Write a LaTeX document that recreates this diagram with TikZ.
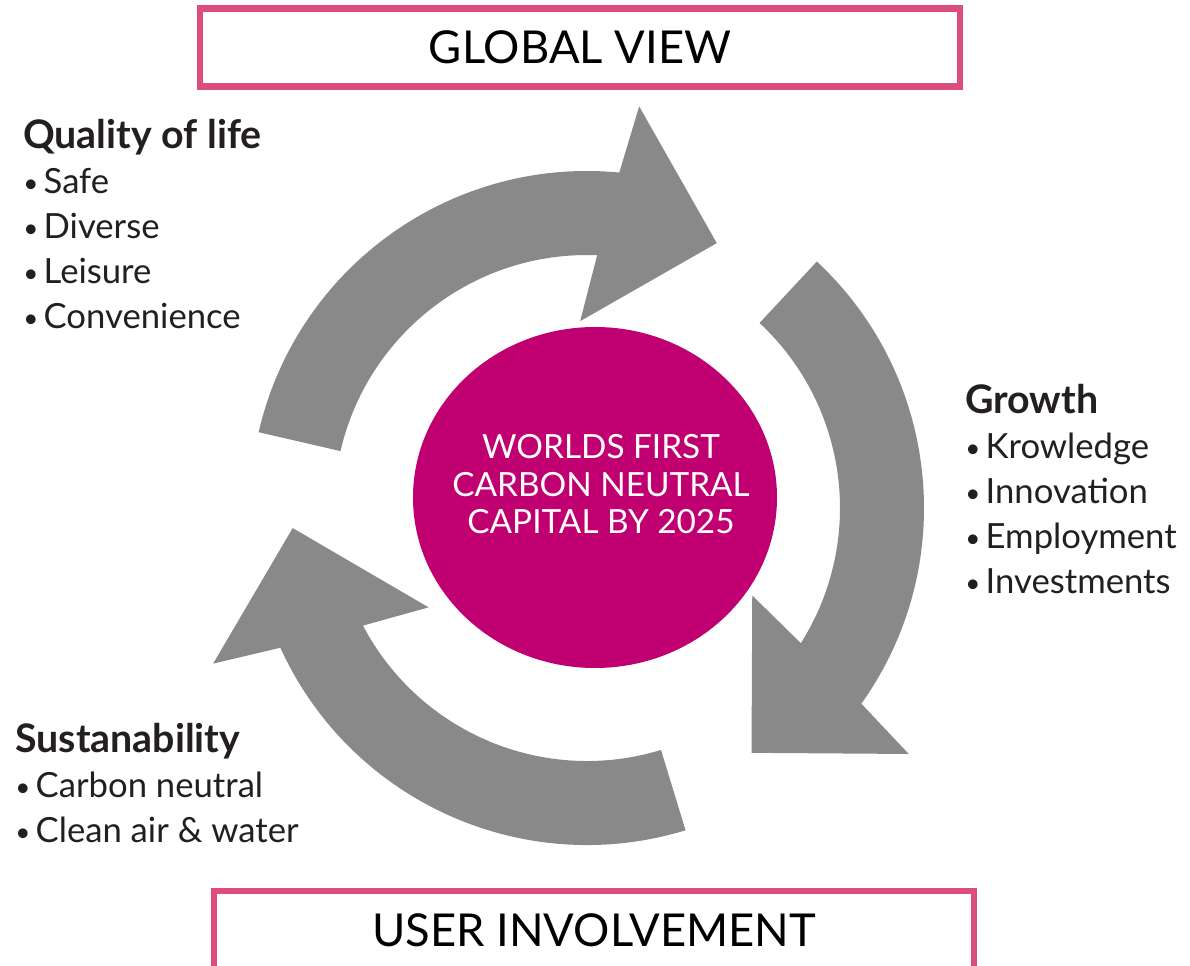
\documentclass[tikz,border=0pt]{standalone}
\usepackage{fontspec}
\setmainfont{Lato}
\usepackage{graphicx}
\usepackage{tikz}

\definecolor{boxpink}{RGB}{220,76,126}
\definecolor{capmagenta}{RGB}{192,0,112}
\definecolor{arrowgray}{RGB}{137,137,137}
\definecolor{textdark}{RGB}{35,31,32}

\newcommand{\listdot}{\raisebox{0.75pt}{\scalebox{0.75}{\textbullet}}\hspace{4pt}}
\newcommand{\listhead}[1]{{\fontsize{29.5}{33.75}\selectfont\bfseries #1}}

\tikzset{
  titlebox/.style={draw=boxpink, line width=5pt, minimum width=570pt, minimum height=58.5pt, inner sep=0pt, text=black, font=\fontsize{34}{40}\selectfont},
  arrowbody/.style={fill=arrowgray, draw=none},
  listtext/.style={anchor=north west, inner sep=0pt, align=left, text=textdark, font=\fontsize{26}{33.75}\selectfont}
}

\begin{document}
\begin{tikzpicture}[x=0.75pt,y=0.75pt,yscale=-1]
\fill[white] (0,0) rectangle (1190,966);
\useasboundingbox (0,0) rectangle (1190,966);

%Shape: Rectangle
\node (global) [titlebox] at (580,47.5) {GLOBAL VIEW};
%Shape: Rectangle
\node (user) [titlebox] at (594,930) {USER INVOLVEMENT};

\begin{scope}[shift={(587,508)}]
%Shape: Circular Arrow (quality of life -> growth)
\draw [arrowbody] (-167:337) arc [start angle=-167, end angle=-84.5, radius=337] -- (-82.6:405) -- (-63.9:295) -- (-92.1:187) -- (-87.7:253) arc [start angle=-87.7, end angle=-167, radius=253] -- cycle ;
%Shape: Circular Arrow (growth -> sustanability)
\draw [arrowbody] (-47:337) arc [start angle=-47, end angle=35.5, radius=337] -- (37.4:405) -- (56.1:295) -- (27.9:187) -- (32.3:253) arc [start angle=32.3, end angle=-47, radius=253] -- cycle ;
%Shape: Circular Arrow (sustanability -> quality of life)
\draw [arrowbody] (73:337) arc [start angle=73, end angle=155.5, radius=337] -- (157.4:405) -- (176.1:295) -- (147.9:187) -- (152.3:253) arc [start angle=152.3, end angle=73, radius=253] -- cycle ;
\end{scope}

%Shape: Ellipse
\fill [capmagenta] (595,497.5) ellipse [x radius=182, y radius=170.5] ;

% Text Node
\node (capital) [align=center, inner sep=0pt, text=white, font=\fontsize{25}{28.1}\selectfont] at (601,484.5) {WORLDS FIRST\\CARBON NEUTRAL\\CAPITAL BY 2025};

% Text Node
\node (quality) [listtext] at (23,118.8) {\listhead{Quality of life}\\\listdot Safe\\\listdot Diverse\\\listdot Leisure\\\listdot Convenience};
% Text Node
\node (growth) [listtext] at (965,383.8) {\listhead{Growth}\\\listdot Krowledge\\\listdot Innovation\\\listdot Employment\\\listdot Investments};
% Text Node
\node (sustain) [listtext] at (15,722.8) {\listhead{Sustanability}\\\listdot Carbon neutral\\\listdot Clean air \& water};

\end{tikzpicture}
\end{document}
